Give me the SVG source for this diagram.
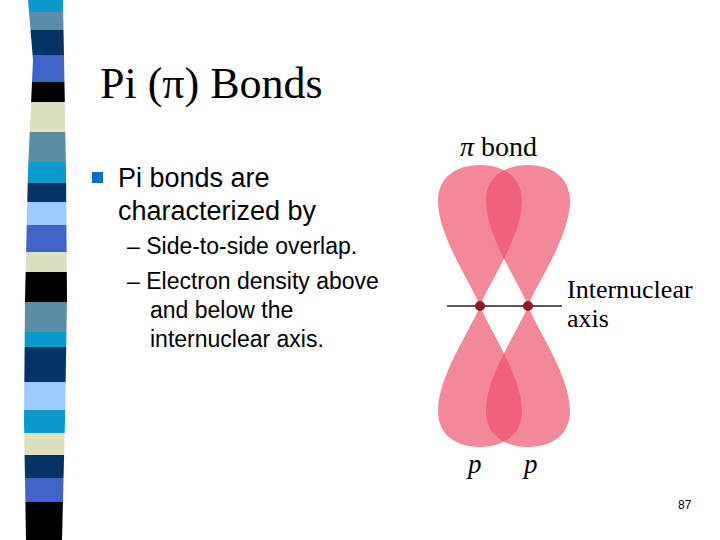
<svg xmlns="http://www.w3.org/2000/svg" width="720" height="540" viewBox="0 0 720 540">
<style>
.t{font-family:"Liberation Sans",Arial,sans-serif;fill:#000}
.s{font-family:"Liberation Serif","Times New Roman",serif;fill:#000}
.lobe{fill:#ee4f68;fill-opacity:0.68}
</style>
<defs>
<clipPath id="stripe"><path d="M28,0 L63,0 L66,170 L67,300 L65,420 L62,540 L26,540 L24,420 L25,300 L28,170 L33,60 Z"/></clipPath>
<path id="up" d="M0,0 C-10,-25 -42,-70 -42,-105 C-42,-130 -22,-141 0,-141 C22,-141 42,-130 42,-105 C42,-70 10,-25 0,0 Z"/>
</defs>
<rect width="720" height="540" fill="#fff"/>
<g id="stripes" clip-path="url(#stripe)">
<rect x="0" y="0" width="80" height="12" fill="#0a9bcc"/>
<rect x="0" y="12" width="80" height="18" fill="#5b8ea6"/>
<rect x="0" y="30" width="80" height="25" fill="#053366"/>
<rect x="0" y="55" width="80" height="27" fill="#3f63c9"/>
<rect x="0" y="82" width="80" height="20" fill="#000"/>
<rect x="0" y="102" width="80" height="30" fill="#dedfbf"/>
<rect x="0" y="132" width="80" height="30" fill="#5b8ea6"/>
<rect x="0" y="162" width="80" height="21" fill="#0a9bcc"/>
<rect x="0" y="183" width="80" height="19" fill="#053366"/>
<rect x="0" y="202" width="80" height="23" fill="#9ccbfa"/>
<rect x="0" y="225" width="80" height="27" fill="#3f63c9"/>
<rect x="0" y="252" width="80" height="20" fill="#dedfbf"/>
<rect x="0" y="272" width="80" height="30" fill="#000"/>
<rect x="0" y="302" width="80" height="30" fill="#5b8ea6"/>
<rect x="0" y="332" width="80" height="15" fill="#0a9bcc"/>
<rect x="0" y="347" width="80" height="35" fill="#053366"/>
<rect x="0" y="382" width="80" height="28" fill="#9ccbfa"/>
<rect x="0" y="410" width="80" height="23" fill="#0a9bcc"/>
<rect x="0" y="433" width="80" height="22" fill="#dedfbf"/>
<rect x="0" y="455" width="80" height="23" fill="#053366"/>
<rect x="0" y="478" width="80" height="24" fill="#3f63c9"/>
<rect x="0" y="502" width="80" height="38" fill="#000"/>
</g>
<text class="s" x="100" y="98" font-size="44" fill="#1a1a1a">Pi (π) Bonds</text>
<rect x="92" y="172" width="11" height="11" fill="#0a6fc2"/>
<text class="t" x="118" y="187" font-size="27">Pi bonds are</text>
<text class="t" x="118" y="220" font-size="27">characterized by</text>
<text class="t" x="127" y="254" font-size="23">– Side-to-side overlap.</text>
<text class="t" x="127" y="289" font-size="23">– Electron density above</text>
<text class="t" x="150" y="318" font-size="23">and below the</text>
<text class="t" x="150" y="347" font-size="23">internuclear axis.</text>
<g id="orbitals">
<use href="#up" class="lobe" transform="translate(480,306)"/>
<use href="#up" class="lobe" transform="translate(528,306)"/>
<use href="#up" class="lobe" transform="translate(480,306) scale(1,-1)"/>
<use href="#up" class="lobe" transform="translate(528,306) scale(1,-1)"/>
<line x1="447" y1="306" x2="562" y2="306" stroke="#222" stroke-width="1.5"/>
<circle cx="480" cy="306" r="5" fill="#8b1a2a"/>
<circle cx="528" cy="306" r="5" fill="#8b1a2a"/>
</g>
<text class="s" x="460" y="156" font-size="28"><tspan font-style="italic">π</tspan> bond</text>
<text class="s" x="567" y="298" font-size="26">Internuclear</text>
<text class="s" x="567" y="327" font-size="26">axis</text>
<text class="s" x="468" y="473" font-size="27" font-style="italic">p</text>
<text class="s" x="524" y="473" font-size="27" font-style="italic">p</text>
<text class="t" x="678" y="509" font-size="12">87</text>
</svg>
